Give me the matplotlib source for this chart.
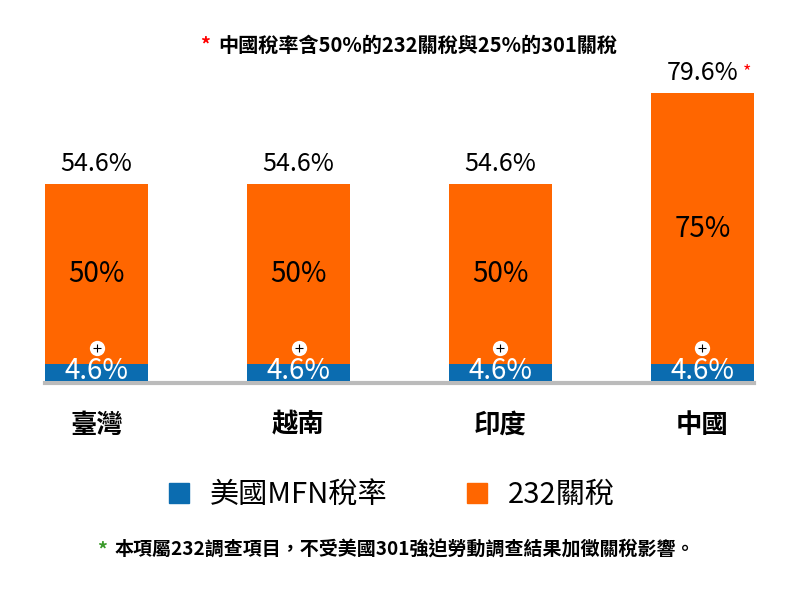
import matplotlib
matplotlib.use('Agg')
import matplotlib.pyplot as plt
import matplotlib.transforms as mtransforms
from matplotlib.patches import Patch

plt.rcParams['font.family'] = ['Noto Sans CJK TC', 'DejaVu Sans']

# data
countries = ['臺灣', '越南', '印度', '中國']
mfn = [4.6, 4.6, 4.6, 4.6]
tariff232 = [50, 50, 50, 75]
totals = ['54.6%', '54.6%', '54.6%', '79.6%']
mfn_labels = ['4.6%', '4.6%', '4.6%', '4.6%']
tariff_labels = ['50%', '50%', '50%', '75%']

blue = '#0b6cb0'
orange = '#ff6600'
bar_w = 0.51

fig = plt.figure(figsize=(8, 6), dpi=100)
ax = fig.add_axes([45 / 800, 1 - 381 / 600, 709 / 800, 311 / 600])

x = list(range(len(countries)))
ax.bar(x, mfn, width=bar_w, color=blue, zorder=2)
ax.bar(x, tariff232, width=bar_w, bottom=mfn, color=orange, zorder=2)

ax.set_xlim(-bar_w / 2, len(x) - 1 + bar_w / 2)
ax.set_ylim(0, 86)
# gray base line sits just under the bars
base = ax.axhline(0, color='#bbbbbb', linewidth=3, zorder=1, clip_on=False)
base.set_transform(base.get_transform() + mtransforms.Affine2D().translate(0, -1.5))

labels_top = []
for i in x:
    top = mfn[i] + tariff232[i]
    # total above bar
    t = ax.annotate(totals[i], (i, top), xytext=(0, 5), textcoords='offset points',
                    ha='center', va='bottom', fontsize=18, color='black')
    labels_top.append(t)
    # 232 label in middle of orange segment
    ax.text(i, mfn[i] + tariff232[i] / 2, tariff_labels[i], ha='center', va='center',
            fontsize=20, color='black', zorder=4)
    # mfn label
    ax.annotate(mfn_labels[i], (i, mfn[i] / 2), xytext=(0, 1.5), textcoords='offset points',
                ha='center', va='center', fontsize=20, color='white', zorder=4)

# little plus circles just above the blue part
off = mtransforms.offset_copy(ax.transData, fig=fig, y=16, units='dots')
ax.plot(x, mfn, 'o', transform=off, markersize=11, color='white',
        markeredgewidth=0, zorder=5)
ax.plot(x, mfn, '+', transform=off, markersize=6, color='black',
        markeredgewidth=0.8, zorder=6)

# red asterisk next to China total
ax.annotate('*', xy=(1, 1), xycoords=labels_top[3], xytext=(3, -2), textcoords='offset points',
            ha='left', va='top', fontsize=13, color='red')

ax.set_xticks(x)
ax.set_xticklabels(countries, fontsize=19, fontweight='bold')
ax.tick_params(axis='x', length=0, pad=22)
ax.set_yticks([])
for s in ax.spines.values():
    s.set_visible(False)

# top note
fig.text(205 / 800, 1 - 45 / 600, '*', color='red', fontsize=14, fontweight='bold',
         ha='center', va='center')
fig.text(218 / 800, 1 - 45 / 600, '中國稅率含50%的232關稅與25%的301關稅', fontsize=14.5,
         fontweight='bold', ha='left', va='center')

# legend
handles = [Patch(color=blue, label='美國MFN稅率'), Patch(color=orange, label='232關稅')]
fig.legend(handles=handles, loc='center', bbox_to_anchor=(0.49, 1 - 495 / 600), ncol=2,
           frameon=False, fontsize=21, handlelength=0.69, handleheight=0.69,
           handletextpad=0.72, columnspacing=2.7)

# footnote
fig.text(102 / 800, 1 - 550 / 600, '*', color='#3a9a2a', fontsize=14, fontweight='bold',
         ha='center', va='center')
fig.text(115 / 800, 1 - 550 / 600, '本項屬232調查項目，不受美國301強迫勞動調查結果加徵關稅影響。',
         fontsize=13.7, fontweight='bold', ha='left', va='center')

fig.savefig('out.png', dpi=100)
